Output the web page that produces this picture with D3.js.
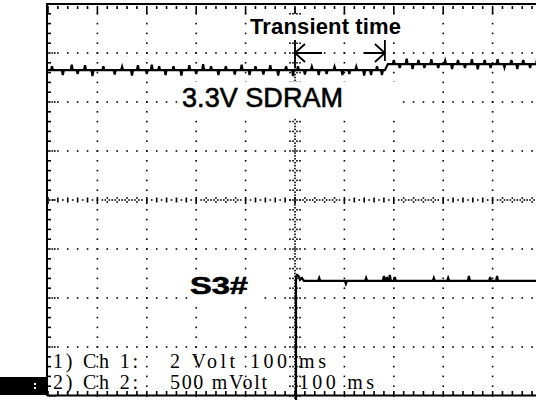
<!DOCTYPE html>
<html>
<head>
<meta charset="utf-8">
<script src="https://cdn.jsdelivr.net/npm/d3@7"></script>
<style>
  body { margin: 0; background: #fff; }
  svg { display: block; }
</style>
</head>
<body>
<svg width="536" height="400"></svg>
<script>
// scope setup: 100 ms/div, 10 x 8 divisions, trigger in the middle
var timeDomain = [-500, 500];
var divDomain = [4, -4];
var voltsPerDiv = { ch1: 2, ch2: 0.5 };
var groundDiv = { ch1: 1.0, ch2: -8.25 };

// ch1 : 3.3V SDRAM rail, level [ms, V]
var ch1Levels = [[-500, 3.30], [182, 3.30], [188, 3.55], [500, 3.55]];
// ch1 noise spikes [ms, dV]
var ch1Spikes = [
  [-492, 0.16], [-470, -0.20], [-452, 0.22], [-440, -0.16], [-425, 0.20], [-410, -0.24],
  [-388, 0.16], [-365, -0.18], [-350, 0.14], [-330, -0.22], [-318, 0.20], [-300, -0.16],
  [-290, 0.22], [-275, 0.16], [-262, -0.20], [-246, 0.16], [-230, -0.22], [-214, 0.20],
  [-200, -0.16], [-186, 0.24], [-170, 0.16], [-155, -0.20], [-140, 0.16], [-122, -0.18],
  [-108, 0.22], [-92, -0.20], [-80, 0.16], [-64, -0.18], [-50, 0.20], [-34, -0.22],
  [-18, 0.16], [-4, -0.24], [6, 0.16], [20, -0.18], [34, 0.14], [48, -0.20], [64, -0.16],
  [80, 0.14], [96, -0.20], [110, -0.16], [124, 0.14], [140, -0.22], [154, -0.20],
  [166, 0.16], [176, -0.20],
  [200, 0.16], [212, -0.16], [226, 0.22], [238, -0.20], [250, 0.16], [262, -0.16],
  [276, 0.20], [290, -0.16], [304, 0.14], [318, -0.20], [330, 0.16], [344, -0.16],
  [358, 0.20], [370, -0.22], [384, 0.16], [396, -0.16], [410, 0.20], [424, -0.14],
  [438, 0.16], [450, -0.20], [462, 0.16], [476, -0.16], [490, 0.20]
];

// ch2 : S3# [ms, V]
var ch2Points = [[-500, 0], [2, 0], [2, 3.34], [4, 3.36], [7, 3.35], [10, 3.31],
  [14, 3.33], [18, 3.30], [500, 3.30]];
var ch2Spikes = [[49, 0.03], [103, -0.03], [144, 0.03], [180, 0.05], [186, 0.04],
  [192, 0.06], [202, 0.04], [281, 0.03], [310, 0.03], [352, 0.05], [395, 0.04], [409, 0.05]];

var transientSpan = [0, 182];
var titleLabels = ["Transient time", "3.3V SDRAM", "S3#"];
var infoLines = [["1) Ch 1:", "2 Volt", "100 ms"], ["2) Ch 2:", "500 mVolt", "100 ms"]];

var svg = d3.select("svg");

var x = d3.scaleLinear().domain(timeDomain).range([48, 542]);
var y = d3.scaleLinear().domain(divDomain).range([4, 396]);

function yv(ch) {
  return function(v) { return y(groundDiv[ch] + v / voltsPerDiv[ch]); };
}
var y1 = yv("ch1"), y2 = yv("ch2");

function withSpikes(base, spikes) {
  var lvl = d3.scaleLinear().domain(base.map(function(d) { return d[0]; }))
    .range(base.map(function(d) { return d[1]; }));
  var pts = base.slice();
  spikes.forEach(function(s) {
    var b = lvl(s[0]);
    pts.push([s[0] - 2, b], [s[0], b + s[1]], [s[0] + 2, b]);
  });
  // keep the step order for equal times
  return pts.map(function(p, i) { return [p[0], p[1], i]; })
    .sort(function(a, b) { return a[0] - b[0] || a[2] - b[2]; });
}

var dots = svg.append("g").attr("fill", "#000");
function dot(px, py, w, h) {
  dots.append("rect").attr("x", px).attr("y", py).attr("width", w || 1.6).attr("height", h || 1.6);
}

var minorT = d3.range(-500, 501, 20);
var minorD = d3.range(-4, 4.01, 0.2);

// grid lines (dotted)
[-3, -2, -1, 1, 2, 3].forEach(function(j) {
  minorT.forEach(function(t) { dot(x(t) - 0.8, y(j) - 0.8); });
});
[-4, -3, -2, -1, 1, 2, 3, 4].forEach(function(i) {
  minorD.forEach(function(d) { dot(x(i * 100) - 0.8, y(d) - 0.8); });
});

// centre axes
d3.range(-500, 500, 10).forEach(function(t) {
  var px = x(t), py = y(0), divIdx = Math.floor((t + 500) / 100);
  if (t % 100 === 0) { dot(px - 0.8, py - 3, 1.6, 7); return; }
  if (t % 20 !== 0) { dot(px - 0.8, py - 0.8); return; }
  if (divIdx % 2 === 0) {
    dot(px - 0.8, py - 2.5, 1.6, 5);
  } else {
    dot(px - 0.8, py - 2.8); dot(px - 0.8, py + 1.2);
    dot(px - 2.8, py - 0.8); dot(px + 1.2, py - 0.8);
  }
});
d3.range(-4, 4, 0.1).forEach(function(d, k) {
  var px = x(0), py = y(d);
  if (k % 2 === 1) { dot(px - 0.8, py - 0.8); return; }
  dot(px - 0.8, py - 2.8); dot(px - 0.8, py + 1.2);
  dot(px - 2.8, py - 0.8); dot(px + 1.2, py - 0.8);
  dot(px - 5.8, py - 0.8); dot(px + 4.2, py - 0.8);
});

// border frame with ticks
var frame = svg.append("g").attr("stroke", "#000").attr("fill", "none");
frame.append("line").attr("x1", 47).attr("x2", 536).attr("y1", 4).attr("y2", 4).attr("stroke-width", 2);
frame.append("line").attr("x1", 47).attr("x2", 47).attr("y1", 3).attr("y2", 396).attr("stroke-width", 2);
frame.append("line").attr("x1", 47).attr("x2", 536).attr("y1", 395.5).attr("y2", 395.5).attr("stroke-width", 2);
minorT.forEach(function(t) {
  var major = t % 100 === 0;
  dot(x(t) - 0.8, 6, 1.6, major ? 8 : 3);
  dot(x(t) - 0.8, 391, 1.6, 4);
});
minorD.forEach(function(d) {
  var major = Math.abs(d - Math.round(d)) < 1e-6;
  if (major) { dot(49, y(d) - 0.8); dot(51.5, y(d) - 0.8); dot(54, y(d) - 0.8); }
  else dot(48, y(d) - 0.8, 3, 1.6);
});

// white boxes behind the labels
var boxes = [[248, 15, 157, 25], [178, 82, 224, 36], [188, 270, 75, 30]];
svg.append("g").selectAll("rect").data(boxes).enter().append("rect")
  .attr("x", function(d) { return d[0]; }).attr("y", function(d) { return d[1]; })
  .attr("width", function(d) { return d[2]; }).attr("height", function(d) { return d[3]; })
  .attr("fill", "#fff");

// traces
var line = function(fy) {
  return d3.line().x(function(d) { return x(d[0]); }).y(function(d) { return fy(d[1]); });
};
svg.append("path").datum(withSpikes(ch1Levels, ch1Spikes))
  .attr("d", line(y1)).attr("fill", "none").attr("stroke", "#000").attr("stroke-width", 2.2);
svg.append("path").datum(withSpikes(ch2Points, ch2Spikes))
  .attr("d", line(y2)).attr("fill", "none").attr("stroke", "#000").attr("stroke-width", 2.2);

// transient time markers
var ax0 = x(transientSpan[0]), ax1 = x(transientSpan[1]), ay = y(3);
var arrows = svg.append("g").attr("stroke", "#000").attr("stroke-width", 1.8).attr("fill", "none");
arrows.append("line").attr("x1", ax0).attr("x2", ax0).attr("y1", 40).attr("y2", 68);
arrows.append("line").attr("x1", ax1).attr("x2", ax1).attr("y1", 40).attr("y2", 61);
arrows.append("path").attr("d", "M" + (ax0 + 27) + "," + ay + "H" + ax0 +
  "M" + (ax0 + 10) + "," + (ay - 9) + "L" + ax0 + "," + ay + "L" + (ax0 + 10) + "," + (ay + 9));
arrows.append("path").attr("d", "M" + (ax1 - 21) + "," + ay + "H" + ax1 +
  "M" + (ax1 - 10) + "," + (ay - 9) + "L" + ax1 + "," + ay + "L" + (ax1 - 10) + "," + (ay + 9));

// labels
svg.append("text").attr("x", 250).attr("y", 34).text(titleLabels[0])
  .attr("font-family", "Liberation Sans, Arial, sans-serif").attr("font-weight", "bold")
  .attr("font-size", 22).attr("textLength", 151);
svg.append("text").attr("x", 182).attr("y", 107).text(titleLabels[1])
  .attr("font-family", "Liberation Sans, Arial, sans-serif").attr("font-size", 27)
  .attr("stroke", "#000").attr("stroke-width", 0.6).attr("textLength", 161);
svg.append("text").attr("x", 190).attr("y", 294).text(titleLabels[2])
  .attr("font-family", "Liberation Sans, Arial, sans-serif").attr("font-weight", "bold")
  .attr("font-size", 23).attr("stroke", "#000").attr("stroke-width", 0.6)
  .attr("textLength", 58).attr("lengthAdjust", "spacingAndGlyphs");

// channel info block
var cols = [[53, 170, 250], [53, 170, 299]];
var widths = [[85, 65, 76], [85, 97, 75]];
var info = svg.append("g").attr("font-family", "Liberation Serif, Times New Roman, serif")
  .attr("font-size", 20).attr("fill", "#000");
infoLines.forEach(function(row, r) {
  row.forEach(function(s, c) {
    info.append("text").attr("x", cols[r][c]).attr("y", r ? 389 : 368)
      .attr("textLength", widths[r][c]).attr("lengthAdjust", "spacing").text(s);
  });
});

// black status block at lower left
svg.append("rect").attr("x", 0).attr("y", 377).attr("width", 46).attr("height", 18).attr("fill", "#000");
svg.append("rect").attr("x", 34).attr("y", 383).attr("width", 2).attr("height", 2).attr("fill", "#fff");
svg.append("rect").attr("x", 34).attr("y", 387).attr("width", 2).attr("height", 2).attr("fill", "#fff");
</script>
</body>
</html>
